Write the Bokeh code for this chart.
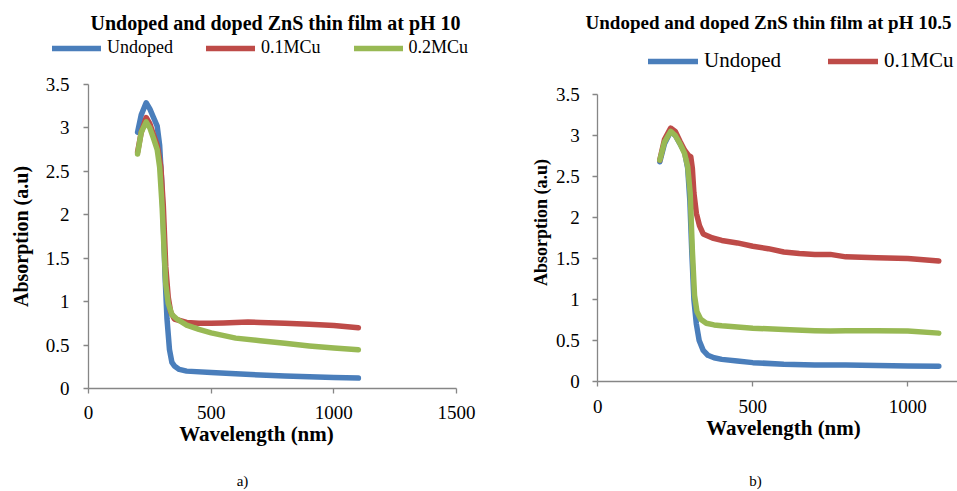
import math
from bokeh.plotting import figure
from bokeh.layouts import row
from bokeh.models import FixedTicker, Label, Legend, LegendItem, Range1d
from bokeh.embed import file_html
from bokeh.resources import INLINE

# ---------------- data: panel a) pH 10 ----------------
a_undoped_nm = [200, 215, 235, 250, 265, 280, 290, 298, 305, 312, 320, 330, 340, 350, 370, 400,
                500, 600, 700, 800, 900, 1000, 1100]
a_undoped = [2.95, 3.15, 3.29, 3.22, 3.12, 3.02, 2.80, 2.40, 1.90, 1.30, 0.80, 0.45, 0.30, 0.26,
             0.22, 0.20, 0.185, 0.17, 0.155, 0.145, 0.135, 0.128, 0.12]

a_cu01_nm = [200, 215, 235, 250, 265, 280, 295, 305, 315, 325, 335, 350, 375, 400, 450, 500,
             550, 600, 650, 700, 800, 900, 1000, 1100]
a_cu01 = [2.72, 2.95, 3.12, 3.05, 2.92, 2.80, 2.55, 2.10, 1.40, 1.05, 0.88, 0.80, 0.78, 0.76,
          0.75, 0.75, 0.755, 0.76, 0.765, 0.76, 0.75, 0.74, 0.725, 0.70]

a_cu02_nm = [200, 215, 235, 250, 265, 280, 290, 300, 308, 315, 325, 340, 360, 400, 450, 500,
             600, 700, 800, 900, 1000, 1100]
a_cu02 = [2.70, 2.95, 3.07, 3.00, 2.88, 2.75, 2.55, 2.10, 1.60, 1.20, 0.98, 0.85, 0.80, 0.73,
          0.68, 0.64, 0.58, 0.55, 0.52, 0.49, 0.465, 0.445]

# ---------------- data: panel b) pH 10.5 ----------------
b_undoped_nm = [200, 215, 235, 250, 265, 280, 290, 297, 303, 310, 318, 327, 340, 355, 375, 400,
                450, 500, 600, 700, 800, 900, 1000, 1100]
b_undoped = [2.68, 2.90, 3.05, 3.00, 2.90, 2.80, 2.60, 2.20, 1.60, 1.00, 0.70, 0.50, 0.38, 0.32,
             0.29, 0.27, 0.25, 0.23, 0.21, 0.20, 0.20, 0.195, 0.19, 0.185]

b_cu01_nm = [200, 215, 235, 250, 265, 280, 292, 300, 305, 310, 318, 328, 340, 370, 400, 450,
             500, 550, 600, 650, 700, 750, 800, 900, 1000, 1100]
b_cu01 = [2.70, 2.95, 3.09, 3.05, 2.93, 2.82, 2.76, 2.74, 2.60, 2.30, 2.05, 1.90, 1.80, 1.75,
          1.72, 1.69, 1.65, 1.62, 1.58, 1.56, 1.55, 1.55, 1.52, 1.51, 1.50, 1.47]

b_cu02_nm = [200, 215, 235, 250, 265, 280, 290, 298, 305, 312, 320, 332, 350, 375, 400, 500,
             600, 700, 750, 800, 900, 1000, 1100]
b_cu02 = [2.70, 2.92, 3.05, 3.00, 2.90, 2.78, 2.62, 2.30, 1.60, 1.05, 0.85, 0.76, 0.71, 0.69,
          0.68, 0.65, 0.635, 0.62, 0.615, 0.62, 0.62, 0.615, 0.59]

# ---------------- labels / ticks ----------------
title_a = "Undoped and doped ZnS thin film at pH 10"
title_b = "Undoped and doped ZnS thin film at pH 10.5"
series_names = ["Undoped", "0.1MCu", "0.2MCu"]
series_colors = ["#4A7EBB", "#BE4B48", "#98B954"]
x_label = "Wavelength (nm)"
y_label = "Absorption (a.u)"
y_ticks = [0, 0.5, 1, 1.5, 2, 2.5, 3, 3.5]
y_tick_labels = ["0", "0.5", "1", "1.5", "2", "2.5", "3", "3.5"]
xa_ticks = [0, 500, 1000, 1500]
xa_tick_labels = ["0", "500", "1000", "1500"]
xb_ticks = [0, 500, 1000]
xb_tick_labels = ["0", "500", "1000"]
caption_a = "a)"
caption_b = "b)"

FONT = "Liberation Serif"
AXIS_COLOR = "#868686"
H = 491
BASE_FIX = 7  # text box baseline correction (px)


def make_panel(width, x_range, y_range, x_bounds, xt, xtl, x_standoff, y_standoff):
    p = figure(width=width, height=H, output_backend="svg", toolbar_location=None,
               x_range=Range1d(*x_range), y_range=Range1d(*y_range),
               min_border=0, min_border_left=0, min_border_right=0,
               min_border_top=0, min_border_bottom=0)
    p.xaxis.fixed_location = 0
    p.yaxis.fixed_location = 0
    p.xaxis.bounds = x_bounds
    p.yaxis.bounds = (y_ticks[0], y_ticks[-1])
    p.xaxis.ticker = FixedTicker(ticks=xt)
    p.xaxis.major_label_overrides = dict(zip(xt, xtl))
    p.yaxis.ticker = FixedTicker(ticks=y_ticks)
    p.yaxis.major_label_overrides = dict(zip(y_ticks, y_tick_labels))
    for ax in (p.xaxis[0], p.yaxis[0]):
        ax.axis_line_color = AXIS_COLOR
        ax.axis_line_width = 1.3
        ax.major_tick_line_color = AXIS_COLOR
        ax.major_tick_line_width = 1.3
        ax.major_tick_out = 5
        ax.major_tick_in = 0
        ax.minor_tick_line_color = None
        ax.major_label_text_font = FONT
        ax.major_label_text_font_size = "19px"
        ax.major_label_text_color = "black"
    p.xaxis.major_label_standoff = x_standoff
    p.yaxis.major_label_standoff = y_standoff
    p.xgrid.grid_line_color = None
    p.ygrid.grid_line_color = None
    p.outline_line_color = None
    p.background_fill_color = "white"
    p.border_fill_color = "white"
    return p


def add_lines(p, series):
    rs = []
    for (xs, ys), c in zip(series, series_colors):
        rs.append(p.line(xs, ys, line_color=c, line_width=5.5, line_cap="round",
                         line_join="round"))
    return rs


def text(p, x, y, s, size, bold=False, angle=0.0, align="center", baseline="alphabetic"):
    p.add_layout(Label(x=x, y=y, x_units="screen", y_units="screen", text=s, angle=angle,
                       text_align=align, text_baseline=baseline, text_font=FONT,
                       text_font_style="bold" if bold else "normal",
                       text_font_size=size, text_color="black"))


# ---------------- panel a (canvas x 0..480) ----------------
# frame covers the whole panel; 0 nm at x=88, 1500 nm at x=456; 0 at y=388, 3.5 at y=84
kx_a = 368 / 1500
ky_a = 304 / 3.5
pa = make_panel(480, (-88 / kx_a, (480 - 88) / kx_a), (-(H - 388) / ky_a, 388 / ky_a),
                (xa_ticks[0], xa_ticks[-1]), xa_ticks, xa_tick_labels, 12, 14)
ra = add_lines(pa, [(a_undoped_nm, a_undoped), (a_cu01_nm, a_cu01), (a_cu02_nm, a_cu02)])
leg_a = Legend(items=[LegendItem(label=n, renderers=[r]) for n, r in zip(series_names, ra)],
               location=(52, H - 58), orientation="horizontal", padding=0, margin=0,
               spacing=33, label_standoff=6, glyph_width=49, glyph_height=20,
               label_height=20, border_line_color=None, background_fill_alpha=0,
               label_text_font=FONT, label_text_font_size="18px", label_text_color="black")
pa.add_layout(leg_a)
text(pa, 275, H - 29.5 + BASE_FIX, title_a, "20px", bold=True)
text(pa, 20, H - 236, y_label, "20px", bold=True, angle=math.pi / 2, baseline="middle")
text(pa, 256, H - 440 + BASE_FIX, x_label, "21px", bold=True)
text(pa, 242, H - 487 + BASE_FIX, caption_a, "15px")

# ---------------- panel b (canvas x 480..957) ----------------
# 0 nm at x=597.3, 1000 nm at x=907.3; 0 at y=381, 3.5 at y=94
kx_b = 310 / 1000
ky_b = 287 / 3.5
xb_end = (477 - 117.3) / kx_b
pb = make_panel(477, (-117.3 / kx_b, xb_end), (-(H - 381) / ky_b, 381 / ky_b),
                (0, xb_end), xb_ticks, xb_tick_labels, 13, 13)
rb = add_lines(pb, [(b_undoped_nm, b_undoped), (b_cu01_nm, b_cu01), (b_cu02_nm, b_cu02)])
leg_b = Legend(items=[LegendItem(label=n, renderers=[r]) for n, r in zip(series_names[:2], rb[:2])],
               location=(168, H - 73), orientation="horizontal", padding=0, margin=0,
               spacing=47, label_standoff=6, glyph_width=50, glyph_height=22,
               label_height=22, border_line_color=None, background_fill_alpha=0,
               label_text_font=FONT, label_text_font_size="21px", label_text_color="black")
pb.add_layout(leg_b)
text(pb, 288, H - 29.3 + BASE_FIX, title_b, "19px", bold=True)
text(pb, 60, H - 222, y_label, "18px", bold=True, angle=math.pi / 2, baseline="middle")
text(pb, 303, H - 434 + BASE_FIX, x_label, "21px", bold=True)
text(pb, 275, H - 487 + BASE_FIX, caption_b, "15px")

layout = row(pa, pb)
open("out.html", "w").write(file_html(layout, INLINE))
